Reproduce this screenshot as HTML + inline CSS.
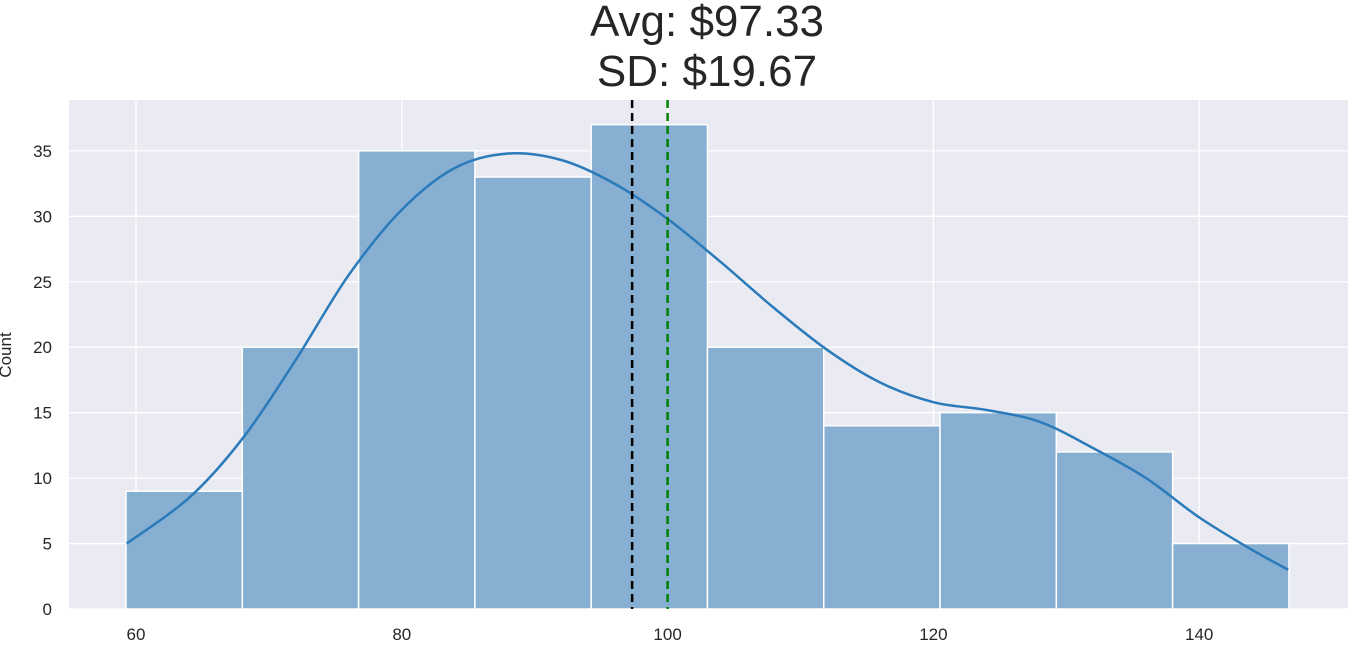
<!DOCTYPE html>
<html><head><meta charset="utf-8"><style>
body{margin:0;background:#fff;}
svg{display:block;font-family:"Liberation Sans",Arial,sans-serif;}
</style></head><body>
<svg id="chart" width="1360" height="654" xmlns="http://www.w3.org/2000/svg">
<rect x="0" y="0" width="1360" height="654" fill="#fff"/>
<rect x="69" y="100" width="1279" height="509" fill="#eaeaf2"/>
<g id="grid"></g><g id="bars"></g><g id="kde"></g><g id="lines"></g><g id="axes"></g>
<text x="707" y="36" font-size="44" text-anchor="middle" fill="#262626">Avg: $97.33</text>
<text x="707" y="86" font-size="44" text-anchor="middle" fill="#262626">SD: $19.67</text>
<text transform="translate(11,355) rotate(-90)" font-size="17" text-anchor="middle" fill="#262626">Count</text>
</svg>
<script>
const binEdges=[59.25,68.0,76.75,85.5,94.25,103.0,111.75,120.5,129.25,138.0,146.75];
const counts=[9,20,35,33,37,20,14,15,12,5];
const kdeX=[59.3,64,68,72,76,80,84,88,92,96,100,104,108,112,116,120,124,128,132,136,140,144,146.7];
const kdeY=[5,8.5,13,19,25.5,30.5,33.7,34.8,34.3,32.5,29.8,26.5,23,19.8,17.3,15.8,15.2,14.3,12.3,10,7,4.5,3];
const xTicks=[60,80,100,120,140];
const yTicks=[0,5,10,15,20,25,30,35];
const meanVal=97.33, medianVal=100;
const NS="http://www.w3.org/2000/svg";
const X=v=>136+(v-60)*13.29;
const Y=v=>609-v*13.09;
function mk(tag,attrs,parent){const e=document.createElementNS(NS,tag);for(const k in attrs)e.setAttribute(k,attrs[k]);document.getElementById(parent).appendChild(e);return e;}
xTicks.forEach(t=>{
 const l=mk('line',{x1:X(t),x2:X(t),y1:100,y2:609,stroke:'#fff','stroke-width':1.3},'grid');
 
 
 const tx=mk('text',{x:X(t),y:640,'font-size':17,'text-anchor':'middle',fill:'#262626'},'axes');tx.textContent=t;
 
 
});
yTicks.forEach(t=>{
 const l=mk('line',{x1:69,x2:1348,y1:Y(t),y2:Y(t),stroke:'#fff','stroke-width':1.3},'grid');
 
 
 const tx=mk('text',{x:52,y:Y(t)+6,'font-size':17,'text-anchor':'end',fill:'#262626'},'axes');tx.textContent=t;
 
 
});
counts.forEach((c,i)=>{
 const r=mk('rect',{x:X(binEdges[i]),y:Y(c),width:X(binEdges[i+1])-X(binEdges[i]),height:Y(0)-Y(c),fill:'#86afd2',stroke:'#fff','stroke-width':1.5},'bars');
 
 
});
const pts=kdeX.map((x,i)=>[X(x),Y(kdeY[i])]);
let d='M'+pts[0][0].toFixed(1)+','+pts[0][1].toFixed(1);
for(let i=0;i<pts.length-1;i++){
 const p0=pts[Math.max(0,i-1)],p1=pts[i],p2=pts[i+1],p3=pts[Math.min(pts.length-1,i+2)];
 const c1=[p1[0]+(p2[0]-p0[0])/6,p1[1]+(p2[1]-p0[1])/6];
 const c2=[p2[0]-(p3[0]-p1[0])/6,p2[1]-(p3[1]-p1[1])/6];
 d+='C'+c1[0].toFixed(1)+','+c1[1].toFixed(1)+' '+c2[0].toFixed(1)+','+c2[1].toFixed(1)+' '+p2[0].toFixed(1)+','+p2[1].toFixed(1);
}
const p=mk('path',{d:d,fill:'none',stroke:'#2b7bba','stroke-width':2.5,'stroke-linejoin':'round'},'kde');


const m=mk('line',{x1:X(meanVal),x2:X(meanVal),y1:100,y2:609,stroke:'#000','stroke-width':2.5,'stroke-dasharray':'8,5'},'lines');


const md=mk('line',{x1:X(medianVal),x2:X(medianVal),y1:100,y2:609,stroke:'#008000','stroke-width':2.5,'stroke-dasharray':'8,5'},'lines');


</script>
</body></html>
